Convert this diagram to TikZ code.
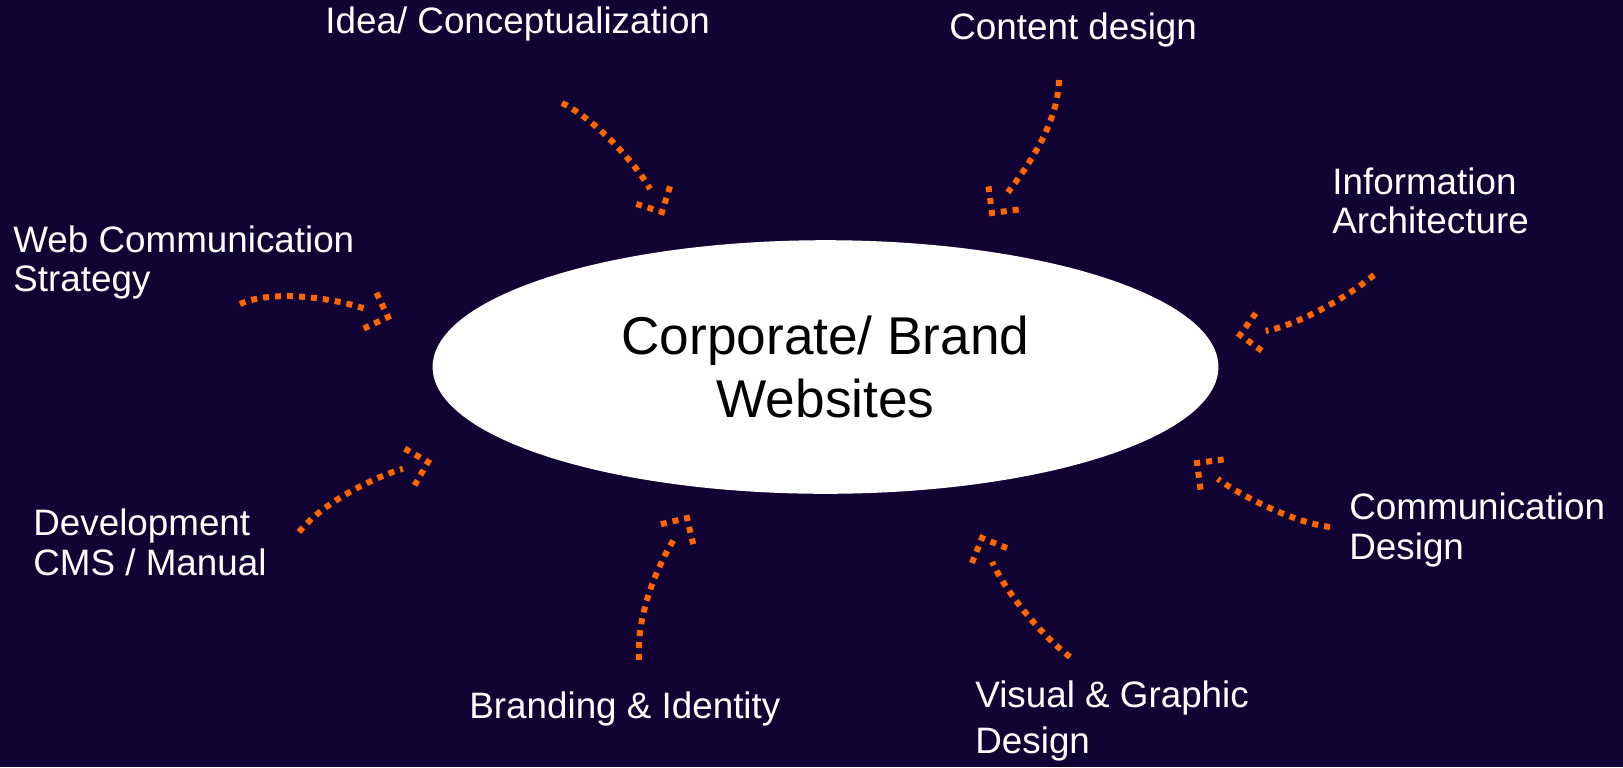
\documentclass[tikz,border=0pt]{standalone}
\usepackage{fontspec}
\setmainfont{Liberation Sans}
\usetikzlibrary{shapes.geometric,decorations.markings}
\definecolor{night}{RGB}{17,3,52}
\definecolor{flame}{RGB}{255,102,0}
\tikzstyle{sidetext}=[anchor=base west, align=left, inner sep=0pt, text=white, font=\fontsize{18.4pt}{19.7pt}\selectfont]
\tikzstyle{hub}=[ellipse, fill=white, inner sep=0pt, minimum width=392.9pt, minimum height=126.8pt, align=center, font=\fontsize{26.6pt}{31.5pt}\selectfont]
\tikzstyle{dotarrow}=[draw=flame, line width=3pt, dash pattern=on 3pt off 3pt, shorten >=13pt, postaction={decorate},
	decoration={markings, mark=at position 1 with {\draw[flame, line width=3pt, dash pattern=on 3pt off 3pt, shorten >=0pt, shorten <=0pt] (-9.5pt,9.5pt) -- (0pt,0pt) -- (-9.5pt,-9.5pt);}}]
\newcommand{\dotarrow}[4]{
	\draw[dotarrow] (#1) .. controls #2 and #3 .. (#4);
}

\begin{document}
\begin{tikzpicture}[x=0.5pt, y=-0.5pt]
	\fill[night] (0,0) rectangle (1623,767);
	\useasboundingbox (0,0) rectangle (1623,767);
	\node[hub] (site) at (825.5,367) {Corporate/ Brand\\Websites};
	\node[sidetext] (idea) at (325,33) {Idea/ Conceptualization};
	\node[sidetext] (content) at (949,39) {Content design};
	\node[sidetext] (info) at (1332,233.5) {Information\\Architecture};
	\node[sidetext] (strategy) at (13,291.5) {Web Communication\\Strategy};
	\node[sidetext] (develop) at (33,575) {Development\\CMS / Manual};
	\node[sidetext] (brand) at (469,718) {Branding \& Identity};
	\node[sidetext, font=\fontsize{18.4pt}{22.8pt}\selectfont] (visual) at (975,753) {Visual \& Graphic\\Design};
	\node[sidetext] (commdes) at (1349,559) {Communication\\Design};
	\coordinate (idea-s) at (562,103);
	\coordinate (idea-t) at (662,212);
	\coordinate (content-s) at (1059,80);
	\coordinate (content-t) at (992,213);
	\coordinate (strategy-s) at (240,304);
	\coordinate (strategy-t) at (388,317);
	\coordinate (info-s) at (1374,275);
	\coordinate (info-t) at (1240,335);
	\coordinate (develop-s) at (299,532);
	\coordinate (develop-t) at (428,462);
	\coordinate (brand-s) at (639,660);
	\coordinate (brand-t) at (687,518);
	\coordinate (visual-s) at (1070,657);
	\coordinate (visual-t) at (982,538);
	\coordinate (commdes-s) at (1330,527);
	\coordinate (commdes-t) at (1197,463);
	\dotarrow{idea-s}{(600,122)}{(640,170)}{idea-t}
	\dotarrow{content-s}{(1058,125)}{(1025,170)}{content-t}
	\dotarrow{strategy-s}{(275,288)}{(340,300)}{strategy-t}
	\dotarrow{info-s}{(1340,303)}{(1290,327)}{info-t}
	\dotarrow{develop-s}{(325,500)}{(380,475)}{develop-t}
	\dotarrow{brand-s}{(636,612)}{(660,562)}{brand-t}
	\dotarrow{visual-s}{(1035,630)}{(1002,585)}{visual-t}
	\dotarrow{commdes-s}{(1290,522)}{(1235,492)}{commdes-t}
\end{tikzpicture}
\end{document}
